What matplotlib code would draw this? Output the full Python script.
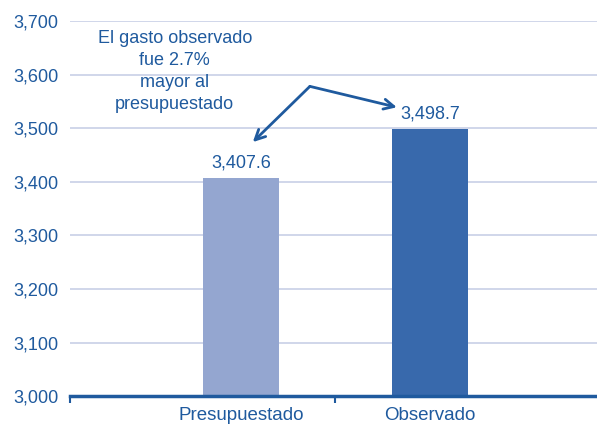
import matplotlib.pyplot as plt
import numpy as np

plt.rcParams['font.family'] = ['Liberation Sans', 'DejaVu Sans']

categories = ['Presupuestado', 'Observado']
values = [3407.6, 3498.7]
bar_colors = ['#94A6D0', '#3869AC']
y_ticks = [3000, 3100, 3200, 3300, 3400, 3500, 3600, 3700]
note = 'El gasto observado\nfue 2.7%\nmayor al\npresupuestado'

blue = '#1F5A9E'

fig = plt.figure(figsize=(5.97, 4.25), dpi=100)
ax = fig.add_axes([0.117, 0.068, 0.883, 0.8826])

x = np.arange(len(categories))
bars = ax.bar(x, values, width=0.40, color=bar_colors, zorder=3)

for xi, v in zip(x, values):
    ax.text(xi, v + 12, f'{v:,.1f}', ha='center', va='bottom',
            fontsize=13, color=blue)

ax.set_ylim(3000, 3700)
ax.set_xlim(-0.905, 1.884)
ax.set_yticks(y_ticks)
ax.set_yticklabels([f'{t:,}' for t in y_ticks])
ax.yaxis.grid(True, color='#C8D0E6', linewidth=1.2, zorder=0)
ax.tick_params(axis='y', length=0, labelsize=13, labelcolor=blue, pad=8)

ax.set_xticks(x)
ax.set_xticklabels(categories)
ax.tick_params(axis='x', which='major', length=0, labelsize=13.5,
               labelcolor=blue, pad=8)
ax.set_xticks([-0.905, 0.5], minor=True)
ax.tick_params(axis='x', which='minor', length=5, width=1.5, color=blue)

for side in ['left', 'right', 'top']:
    ax.spines[side].set_visible(False)
ax.spines['bottom'].set_color(blue)
ax.spines['bottom'].set_linewidth(2.5)
ax.spines['bottom'].set_zorder(4)

ax.text(-0.35, 3683, note, ha='center', va='top', fontsize=13,
        color=blue, linespacing=1.38)

vertex = (0.365, 3578)
for tip in [(0.063, 3474), (0.825, 3539)]:
    ax.annotate('', xy=tip, xytext=vertex,
                arrowprops=dict(arrowstyle='->', color=blue, lw=2,
                                mutation_scale=18, shrinkA=0, shrinkB=0))

fig.savefig('out.png', dpi=100)
